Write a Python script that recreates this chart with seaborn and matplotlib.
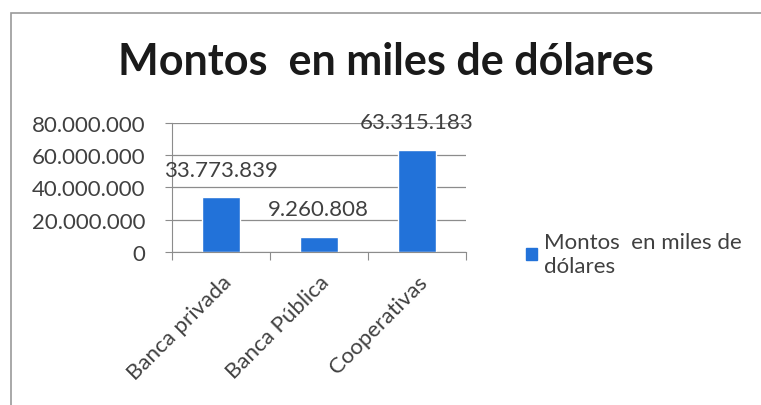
"""Bar chart: montos en miles de dolares por tipo de entidad."""
import matplotlib
matplotlib.use("Agg")
import matplotlib.pyplot as plt
import matplotlib.patches as mpatches
from matplotlib.ticker import FuncFormatter, MultipleLocator
import pandas as pd
import seaborn as sns

categorias = ["Banca privada", "Banca Pública", "Cooperativas"]
montos = [33773839, 9260808, 63315183]
serie = "Montos  en miles de dólares"
leyenda = "Montos  en miles de\ndólares"
etiquetas = ["33.773.839", "9.260.808", "63.315.183"]

df = pd.DataFrame({"categoria": categorias, "monto": montos})

sns.set_style("white")
plt.rcParams["font.family"] = ["Lato", "DejaVu Sans"]

fig = plt.figure(figsize=(7.61, 4.06), dpi=100)
ax = fig.add_axes([0.226, 0.377, 0.386, 0.318])

azul = "#2272d9"
fs = 16
sns.barplot(data=df, x="categoria", y="monto", color=azul, width=0.39,
            saturation=1, ax=ax)

ax.set_ylim(0, 80000000)
ax.set_xlim(-0.5, 2.5)
ax.yaxis.set_major_locator(MultipleLocator(20000000))
ax.yaxis.set_major_formatter(
    FuncFormatter(lambda v, p: f"{int(v):,}".replace(",", ".")))
ax.grid(axis="y", color="#8c8c8c", linewidth=0.9)
ax.set_axisbelow(True)
for s in ["top", "right"]:
    ax.spines[s].set_visible(False)
for s in ["left", "bottom"]:
    ax.spines[s].set_color("#8c8c8c")
ax.set_xlabel("")
ax.set_ylabel("")
ax.tick_params(axis="y", labelsize=fs, colors="#8c8c8c", labelcolor="#404040",
               left=True, length=5, pad=14)
# x ticks between categories, labels rotated
ax.set_xticks([-0.5, 0.5, 1.5, 2.5], minor=False)
ax.set_xticklabels([])
ax.set_xticks([0, 1, 2], minor=True)
ax.set_xticklabels(categorias, minor=True, rotation=45, ha="right",
                   rotation_mode="anchor", fontsize=fs, color="#404040")
ax.tick_params(axis="x", which="major", bottom=True, length=6,
               colors="#8c8c8c")
ax.tick_params(axis="x", which="minor", bottom=False, pad=12)

for i, (v, t) in enumerate(zip(montos, etiquetas)):
    ax.annotate(t, (i, v), textcoords="offset points", xytext=(0, 20),
                ha="center", va="center", fontsize=fs, color="#404040")

fig.text(0.507, 0.847, serie, fontsize=31, fontweight="bold",
         color="#1a1a1a", ha="center", va="center")

handle = mpatches.Patch(color=azul, label=leyenda)
fig.legend(handles=[handle], loc="center left", bbox_to_anchor=(0.665, 0.372),
           frameon=False, fontsize=fs, handlelength=0.5, handleheight=0.5,
           handletextpad=0.3, labelcolor="#404040", labelspacing=0.2)

fig.patches.append(mpatches.Rectangle((0.014, -0.01), 1.0, 0.976,
                                      transform=fig.transFigure, fill=False,
                                      edgecolor="#9a9a9a", linewidth=1.2))

fig.savefig("out.png", dpi=100)
